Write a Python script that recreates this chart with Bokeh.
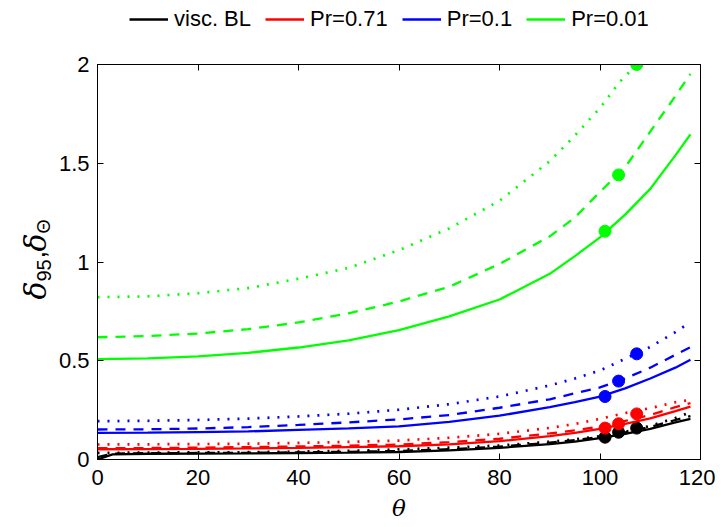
import math
from bokeh.plotting import figure
from bokeh.layouts import row, column
from bokeh.models import (Legend, LegendItem, LinearAxis, FixedTicker, Range1d, Label)
from bokeh.embed import file_html
from bokeh.resources import INLINE

# ---------------- data ----------------
theta = [0, 10, 20, 30, 40, 50, 60, 70, 80, 90, 95, 100, 105, 110, 115, 118]
theta_black = [0, 3, 10, 20, 30, 40, 50, 60, 70, 80, 90, 95, 100, 105, 110, 115, 118]
theta_green_dot = [0, 10, 20, 30, 40, 50, 60, 70, 80, 90, 95, 100, 104, 107.3]

green_solid = [0.508, 0.512, 0.522, 0.540, 0.567, 0.603, 0.655, 0.725, 0.81, 0.94, 1.03, 1.125, 1.24, 1.37, 1.54, 1.646]
green_dash = [0.619, 0.625, 0.638, 0.66, 0.694, 0.74, 0.80, 0.875, 0.99, 1.13, 1.225, 1.355, 1.48, 1.66, 1.84, 1.953]
green_dot = [0.822, 0.826, 0.842, 0.868, 0.915, 0.97, 1.06, 1.17, 1.31, 1.51, 1.64, 1.78, 1.914, 2.0]

blue_solid = [0.135, 0.136, 0.139, 0.142, 0.15, 0.158, 0.168, 0.19, 0.222, 0.265, 0.29, 0.318, 0.36, 0.41, 0.465, 0.505]
blue_dash = [0.152, 0.153, 0.157, 0.164, 0.175, 0.188, 0.203, 0.225, 0.262, 0.305, 0.335, 0.365, 0.41, 0.465, 0.53, 0.569]
blue_dot = [0.194, 0.196, 0.2, 0.207, 0.218, 0.232, 0.252, 0.28, 0.319, 0.375, 0.41, 0.451, 0.51, 0.57, 0.645, 0.695]

red_solid = [0.052, 0.053, 0.054, 0.056, 0.059, 0.063, 0.067, 0.077, 0.093, 0.118, 0.135, 0.155, 0.18, 0.208, 0.245, 0.268]
red_dash = [0.057, 0.058, 0.06, 0.063, 0.066, 0.07, 0.076, 0.088, 0.105, 0.132, 0.148, 0.166, 0.195, 0.225, 0.265, 0.285]
red_dot = [0.076, 0.077, 0.078, 0.08, 0.084, 0.089, 0.096, 0.11, 0.13, 0.16, 0.18, 0.206, 0.235, 0.26, 0.29, 0.302]

black_solid = [0.0, 0.026, 0.029, 0.03, 0.031, 0.033, 0.035, 0.038, 0.046, 0.059, 0.078, 0.09, 0.108, 0.13, 0.155, 0.188, 0.206]
black_dash = [0.012, 0.03, 0.032, 0.033, 0.034, 0.036, 0.039, 0.043, 0.052, 0.065, 0.085, 0.098, 0.115, 0.137, 0.165, 0.2, 0.22]
black_dot = [0.034, 0.034, 0.035, 0.036, 0.037, 0.04, 0.044, 0.051, 0.06, 0.071, 0.09, 0.102, 0.118, 0.14, 0.17, 0.21, 0.24]

theta_marks = [101.0, 103.7, 107.3]
black_marks = [0.113, 0.138, 0.159]
red_marks = [0.159, 0.181, 0.231]
blue_marks = [0.319, 0.397, 0.535]
green_marks = [1.156, 1.441, 2.0]

x_ticks = [0, 20, 40, 60, 80, 100, 120]
x_tick_labels = ["0", "20", "40", "60", "80", "100", "120"]
y_ticks = [0, 0.5, 1, 1.5, 2]
y_tick_labels = ["0", "0.5", "1", "1.5", "2"]

legend_labels = ["visc. BL", "Pr=0.71", "Pr=0.1", "Pr=0.01"]
colors = ["black", "#ff0000", "#0000ff", "#00ff00"]

TICKFONT = "Liberation Sans"

# ---------------- main figure ----------------
p = figure(width=661, height=486, output_backend="svg", toolbar_location=None,
           x_range=Range1d(0, 120), y_range=Range1d(0, 2),
           min_border_left=43, min_border_right=15, min_border_top=24, min_border_bottom=67)
p.grid.visible = False
p.outline_line_color = "black"
p.outline_line_width = 1
p.background_fill_color = "white"
p.border_fill_color = "white"


def style_axis(ax, ticks, labels, show=True):
    ax.ticker = FixedTicker(ticks=ticks)
    ax.major_tick_in = 6
    ax.major_tick_out = 0
    ax.minor_tick_in = 0
    ax.minor_tick_out = 0
    ax.axis_line_color = "black"
    ax.major_tick_line_color = "black"
    ax.major_label_text_font = TICKFONT
    ax.major_label_text_color = "black"
    ax.major_label_text_font_size = "22px"
    if show:
        ax.major_label_overrides = {t: l for t, l in zip(ticks, labels)}
    else:
        ax.major_label_overrides = {t: "" for t in ticks}
        ax.major_label_standoff = 0


style_axis(p.xaxis[0], x_ticks, x_tick_labels)
style_axis(p.yaxis[0], y_ticks, y_tick_labels)
p.xaxis[0].major_label_standoff = 10
p.yaxis[0].major_label_standoff = 8
p.xaxis[0].axis_label = "θ"
p.xaxis[0].axis_label_text_font = "DejaVu Serif"
p.xaxis[0].axis_label_text_font_style = "italic"
p.xaxis[0].axis_label_text_font_size = "23px"
p.xaxis[0].axis_label_text_color = "black"
p.xaxis[0].axis_label_standoff = 7

top_ax = LinearAxis()
style_axis(top_ax, x_ticks, x_tick_labels, show=False)
p.add_layout(top_ax, "above")
right_ax = LinearAxis()
style_axis(right_ax, y_ticks, y_tick_labels, show=False)
p.add_layout(right_ax, "right")

LW = 2.3
DASH = "10 8"
DOT = "2 8"

series = [
    (theta_black, black_solid, black_dash, theta_black, black_dot, black_marks),
    (theta, red_solid, red_dash, theta, red_dot, red_marks),
    (theta, blue_solid, blue_dash, theta, blue_dot, blue_marks),
    (theta, green_solid, green_dash, theta_green_dot, green_dot, green_marks),
]

for color, (th, ys, yd, thd, ydot, marks) in zip(colors, series):
    p.line(th, ys, line_color=color, line_width=LW)
    p.line(th, yd, line_color=color, line_width=LW, line_dash=DASH)
    p.line(thd, ydot, line_color=color, line_width=LW + 0.4, line_dash=DOT)
    p.scatter(theta_marks, marks, size=12, marker="circle", fill_color=color, line_color=color)

# ---------------- legend strip (its lines lie outside the strip's view) ----------------
pl = figure(width=661, height=40, output_backend="svg", toolbar_location=None,
            x_range=Range1d(200, 201), y_range=Range1d(0, 1),
            x_axis_type=None, y_axis_type=None, min_border=0)
pl.grid.visible = False
pl.outline_line_color = None
items = []
for color, lab, (th, ys, _, _, _, _) in zip(colors, legend_labels, series):
    r = pl.line(th, ys, line_color=color, line_width=2.5)
    items.append(LegendItem(label=lab, renderers=[r]))
legend = Legend(items=items, orientation="horizontal", location=(32, 8),
                label_text_font=TICKFONT, label_text_font_size="22px",
                label_text_color="black",
                glyph_width=39, glyph_height=22, label_height=22, label_standoff=6, spacing=14,
                padding=0, margin=0, border_line_color=None, background_fill_alpha=0)
pl.add_layout(legend)

# ---------------- y-label strip ----------------
py = figure(width=54, height=526, output_backend="svg", toolbar_location=None,
            x_range=Range1d(0, 54), y_range=Range1d(0, 526),
            x_axis_type=None, y_axis_type=None, min_border=0)
py.grid.visible = False
py.outline_line_color = None


def ylab(txt, x, y, size, italic):
    py.add_layout(Label(x=x, y=y, text=txt, angle=math.pi / 2,
                        text_font="DejaVu Serif" if italic else TICKFONT,
                        text_font_style="italic" if italic else "normal",
                        text_font_size=size, text_color="black",
                        text_align="left", text_baseline="alphabetic"))


ylab("δ", 35, 227, "30px", True)
ylab("95", 43, 245, "20px", False)
ylab(",", 35, 268, "28px", False)
ylab("δ", 35, 275, "30px", True)
ylab("Θ", 43, 293, "18px", False)

layout = row(py, column(pl, p))
open("out.html", "w").write(file_html(layout, INLINE))
